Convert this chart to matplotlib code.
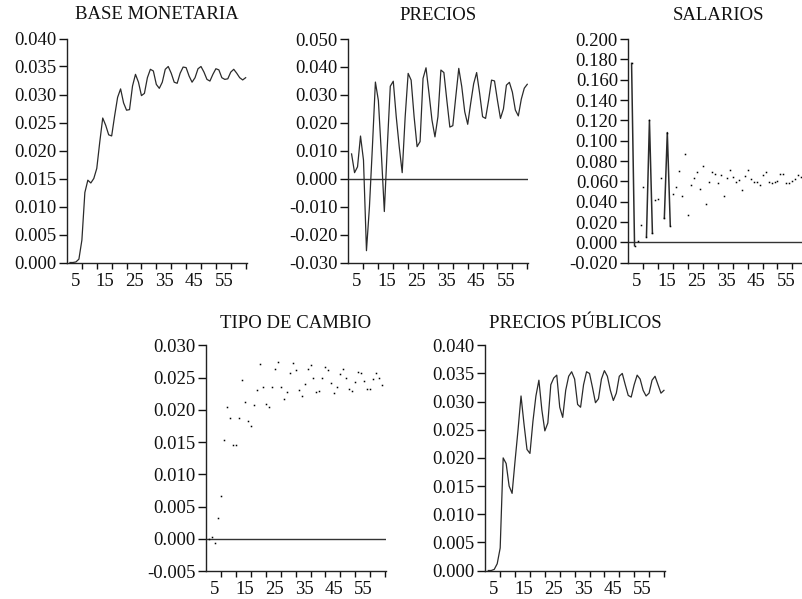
import numpy as np
import matplotlib
matplotlib.use("Agg")
import matplotlib.pyplot as plt
import matplotlib.transforms as mtransforms
from matplotlib.ticker import FixedLocator, FuncFormatter

plt.rcParams['font.family'] = ['Liberation Serif', 'DejaVu Serif']
plt.rcParams['axes.unicode_minus'] = False

# periodos de la respuesta al impulso
periodos = np.arange(1, 61)

base_monetaria = [
    0.0000, 0.0000, 0.0001, 0.0006, 0.0040, 0.0125, 0.0147, 0.0142, 0.0150, 0.0168,
    0.0215, 0.0258, 0.0245, 0.0228, 0.0226, 0.0262, 0.0295, 0.0310, 0.0285, 0.0272,
    0.0273, 0.0315, 0.0336, 0.0322, 0.0298, 0.0302, 0.0330, 0.0345, 0.0342, 0.0318,
    0.0311, 0.0322, 0.0345, 0.0350, 0.0338, 0.0322, 0.0320, 0.0338, 0.0349, 0.0348,
    0.0333, 0.0322, 0.0330, 0.0346, 0.0350, 0.0340, 0.0327, 0.0324, 0.0336, 0.0346,
    0.0344, 0.0330, 0.0327, 0.0328, 0.0340, 0.0345, 0.0338, 0.0330, 0.0326, 0.0330]

precios = [
    0.0089, 0.0022, 0.0043, 0.0153, 0.0067, -0.0257, -0.0100, 0.0115, 0.0346, 0.0280,
    0.0091, -0.0117, 0.0115, 0.0331, 0.0349, 0.0222, 0.0115, 0.0022, 0.0222, 0.0377,
    0.0353, 0.0222, 0.0115, 0.0133, 0.0359, 0.0397, 0.0306, 0.0210, 0.0150, 0.0222,
    0.0389, 0.0380, 0.0280, 0.0185, 0.0190, 0.0294, 0.0395, 0.0330, 0.0240, 0.0195,
    0.0270, 0.0340, 0.0380, 0.0306, 0.0222, 0.0216, 0.0280, 0.0353, 0.0350, 0.0280,
    0.0216, 0.0250, 0.0335, 0.0345, 0.0310, 0.0246, 0.0225, 0.0285, 0.0324, 0.0338]

salarios = [
    0.1760, -0.0033, 0.0013, 0.0167, 0.0540, 0.0056, 0.1200, 0.0089, 0.0413, 0.0423,
    0.0630, 0.0236, 0.1080, 0.0164, 0.0475, 0.0540, 0.0698, 0.0456, 0.0869, 0.0266,
    0.0560, 0.0630, 0.0689, 0.0528, 0.0750, 0.0374, 0.0590, 0.0689, 0.0672, 0.0580,
    0.0662, 0.0456, 0.0633, 0.0711, 0.0643, 0.0590, 0.0613, 0.0511, 0.0652, 0.0711,
    0.0623, 0.0593, 0.0593, 0.0564, 0.0659, 0.0689, 0.0597, 0.0584, 0.0593, 0.0600,
    0.0669, 0.0669, 0.0580, 0.0580, 0.0600, 0.0623, 0.0659, 0.0646]
# tramos de salarios que se ven como linea (indices de periodos)
salarios_tramos = [(0, 2), (5, 8), (11, 14)]

tipo_cambio = [
    -0.0001, 0.0003, -0.0006, 0.0032, 0.0066, 0.0153, 0.0205, 0.0187, 0.0145, 0.0146,
    0.0187, 0.0246, 0.0212, 0.0182, 0.0175, 0.0207, 0.0231, 0.0271, 0.0236, 0.0209,
    0.0204, 0.0235, 0.0264, 0.0274, 0.0236, 0.0216, 0.0228, 0.0257, 0.0272, 0.0261,
    0.0230, 0.0222, 0.0240, 0.0264, 0.0269, 0.0250, 0.0227, 0.0229, 0.0250, 0.0266,
    0.0262, 0.0241, 0.0226, 0.0236, 0.0256, 0.0263, 0.0250, 0.0233, 0.0229, 0.0243,
    0.0258, 0.0257, 0.0244, 0.0232, 0.0233, 0.0248, 0.0257, 0.0250, 0.0238]

precios_publicos = [
    0.0000, 0.0000, 0.0002, 0.0012, 0.0040, 0.0200, 0.0190, 0.0150, 0.0137, 0.0195,
    0.0250, 0.0310, 0.0260, 0.0215, 0.0208, 0.0265, 0.0310, 0.0338, 0.0285, 0.0248,
    0.0262, 0.0330, 0.0342, 0.0347, 0.0290, 0.0272, 0.0320, 0.0345, 0.0353, 0.0340,
    0.0295, 0.0290, 0.0330, 0.0353, 0.0350, 0.0325, 0.0298, 0.0305, 0.0340, 0.0355,
    0.0345, 0.0320, 0.0302, 0.0315, 0.0345, 0.0350, 0.0330, 0.0311, 0.0308, 0.0330,
    0.0347, 0.0340, 0.0320, 0.0310, 0.0315, 0.0338, 0.0345, 0.0330, 0.0315, 0.0320]

W, H = 803, 599
FS = 13.5
LINE = '#2b2b2b'


def make_axes(fig, left, top, right, bottom):
    """Crea un eje a partir de coordenadas en pixeles (y desde arriba)."""
    return fig.add_axes([left / W, 1 - bottom / H, (right - left) / W, (bottom - top) / H])


def style_axes(ax, title, ylim, ystep, title_pad, zero_line=False):
    ax.set_xlim(-0.1, 60.35)
    ax.set_ylim(*ylim)
    ax.set_yticks(np.round(np.arange(ylim[0], ylim[1] + ystep / 2, ystep), 4))
    ax.yaxis.set_major_formatter(FuncFormatter(lambda v, p: f"{v:.3f}"))
    ax.xaxis.set_major_locator(FixedLocator(np.arange(5, 61, 5)))
    ax.xaxis.set_major_formatter(FuncFormatter(
        lambda v, p: f"{int(round(v))}" if int(round(v)) % 10 == 5 else ""))
    for s in ('top', 'right'):
        ax.spines[s].set_visible(False)
    for s in ('left', 'bottom'):
        ax.spines[s].set_linewidth(1.0)
        ax.spines[s].set_color('#222222')
    ax.tick_params(axis='y', direction='out', length=6, width=1.0, pad=1.5,
                   labelsize=FS, colors='#111111')
    ax.tick_params(axis='x', direction='out', length=4.5, width=1.0, pad=3,
                   labelsize=FS, colors='#111111')
    if zero_line:
        ax.axhline(0, color='#333333', lw=1.0, zorder=1)
    ax.set_title(title, fontsize=FS, pad=title_pad, color='#111111')
    ax.patch.set_visible(False)
    # las etiquetas del eje x aparecen algo a la izquierda de su marca
    shift = mtransforms.ScaledTranslation(-6.5 / 100, 0, ax.figure.dpi_scale_trans)
    for tick in ax.xaxis.get_major_ticks():
        tick.label1.set_transform(tick.label1.get_transform() + shift)


fig = plt.figure(figsize=(W / 100, H / 100), dpi=100)

ax1 = make_axes(fig, 66.7, 38.5, 246.7, 262.5)
ax1.plot(periodos, base_monetaria, color=LINE, lw=0.9)
style_axes(ax1, 'BASE MONETARIA', (0, 0.040), 0.005, 14)

ax2 = make_axes(fig, 348.3, 39, 528.3, 262.7)
ax2.plot(periodos, precios, color=LINE, lw=0.9, zorder=2)
style_axes(ax2, 'PRECIOS', (-0.030, 0.050), 0.010, 14, zero_line=True)

ax3 = make_axes(fig, 628.3, 39, 808.3, 262.7)
x_sal = periodos[:len(salarios)]
sal = np.array(salarios)
ax3.plot(x_sal, sal, ls='none', marker='s', ms=1.1, mew=0, color='black', zorder=3)
for a, b in salarios_tramos:
    ax3.plot(x_sal[a:b], sal[a:b], color=LINE, lw=1.1, zorder=2)
style_axes(ax3, 'SALARIOS', (-0.020, 0.200), 0.020, 14, zero_line=True)

ax4 = make_axes(fig, 206, 345.3, 386, 571)
ax4.plot(periodos[:len(tipo_cambio)], tipo_cambio, ls='none', marker='s', ms=1.1,
         mew=0, color='black', zorder=3)
style_axes(ax4, 'TIPO DE CAMBIO', (-0.005, 0.030), 0.005, 12.5, zero_line=True)

ax5 = make_axes(fig, 485, 345.3, 665, 570.5)
ax5.plot(periodos, precios_publicos, color=LINE, lw=0.9)
style_axes(ax5, 'PRECIOS PÚBLICOS', (0, 0.040), 0.005, 12.5)

fig.savefig('out.png', dpi=100)
